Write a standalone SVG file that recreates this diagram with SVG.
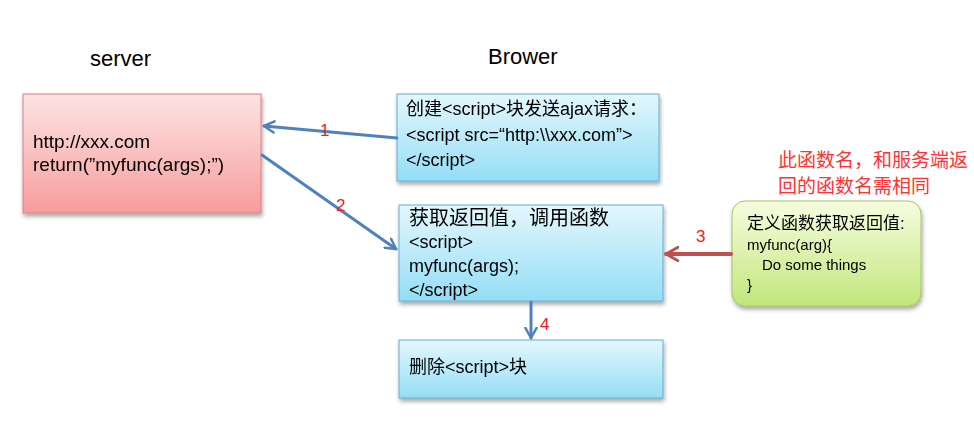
<svg xmlns="http://www.w3.org/2000/svg" width="974" height="430" viewBox="0 0 974 430">
<defs>
<linearGradient id="gPink" x1="0" y1="0" x2="0" y2="1"><stop offset="0" stop-color="#fde4e4"/><stop offset="1" stop-color="#f79c9c"/></linearGradient>
<linearGradient id="gBlue" x1="0" y1="0" x2="0" y2="1"><stop offset="0" stop-color="#e4f7fd"/><stop offset="1" stop-color="#94def5"/></linearGradient>
<linearGradient id="gGreen" x1="0" y1="0" x2="0" y2="1"><stop offset="0" stop-color="#f6fde0"/><stop offset="1" stop-color="#c2e67a"/></linearGradient>
<filter id="sh" x="-10%" y="-10%" width="130%" height="140%"><feGaussianBlur in="SourceAlpha" stdDeviation="2"/><feOffset dx="1" dy="3"/><feComponentTransfer><feFuncA type="linear" slope="0.35"/></feComponentTransfer><feMerge><feMergeNode/><feMergeNode in="SourceGraphic"/></feMerge></filter>
<marker id="aBlue" viewBox="0 0 12 12" refX="10" refY="6" markerWidth="4.5" markerHeight="4.5" markerUnits="strokeWidth" orient="auto"><path d="M1,1 L10,6 L1,11" fill="none" stroke="#4f81bd" stroke-width="2.2" stroke-linecap="round" stroke-linejoin="round"/></marker>
<marker id="aRed" viewBox="0 0 12 12" refX="10" refY="6" markerWidth="4" markerHeight="4" markerUnits="strokeWidth" orient="auto"><path d="M1,1 L10,6 L1,11" fill="none" stroke="#c0504d" stroke-width="2.2" stroke-linecap="round" stroke-linejoin="round"/></marker>
</defs>
<style>
text{font-family:"Liberation Sans","Noto Sans CJK SC",sans-serif;fill:#000}
.t{font-size:22px}
.b{font-size:18px}
.s{font-size:19px}
.g{font-size:15px}
.n{font-size:17px;fill:#f02020}
.r{font-size:19px;fill:#ff3333}
.blue{fill:url(#gBlue);stroke:#62aed3;stroke-width:1}
</style>
<rect width="974" height="430" fill="#fff"/>
<text class="t" x="90" y="66">server</text>
<text class="t" x="488" y="64">Brower</text>
<g id="server" filter="url(#sh)">
<rect x="23" y="94" width="238" height="119" fill="url(#gPink)" stroke="#d9807e"/>
<text class="s" x="33" y="148">http://xxx.com</text>
<text class="s" x="33" y="171">return(”myfunc(args);”)</text>
</g>
<g id="create" filter="url(#sh)">
<rect class="blue" x="397" y="94" width="262" height="87"/>
<text class="b" x="406" y="115">创建&lt;script&gt;块发送ajax请求：</text>
<text class="b" x="406" y="141">&lt;script src=“http:\\xxx.com”&gt;</text>
<text class="b" x="406" y="166">&lt;/script&gt;</text>
</g>
<g id="call" filter="url(#sh)">
<rect class="blue" x="399" y="205" width="264" height="96"/>
<text x="409" y="225" style="font-size:20px">获取返回值，调用函数</text>
<text class="b" x="409" y="248">&lt;script&gt;</text>
<text class="b" x="409" y="272">myfunc(args);</text>
<text class="b" x="409" y="296">&lt;/script&gt;</text>
</g>
<g id="delete" filter="url(#sh)">
<rect class="blue" x="399" y="340" width="264" height="58"/>
<text class="b" x="409" y="373">删除&lt;script&gt;块</text>
</g>
<g id="define" filter="url(#sh)">
<rect x="732" y="201" width="189" height="105" rx="13" fill="url(#gGreen)" stroke="#a6c463"/>
<text x="747" y="229" style="font-size:17px">定义函数获取返回值:</text>
<text class="g" x="747" y="250">myfunc(arg){</text>
<text class="g" x="762" y="270">Do some things</text>
<text class="g" x="747" y="290">}</text>
</g>
<g id="note">
<text class="r" x="778" y="167">此函数名，和服务端返</text>
<text class="r" x="778" y="193">回的函数名需相同</text>
</g>
<g id="connectors" fill="none" stroke-linecap="round">
<line x1="397" y1="138" x2="264" y2="126" stroke="#4f81bd" stroke-width="3" marker-end="url(#aBlue)"/>
<line x1="262" y1="155" x2="396" y2="249" stroke="#4f81bd" stroke-width="3" marker-end="url(#aBlue)"/>
<line x1="731" y1="254" x2="666" y2="254" stroke="#c0504d" stroke-width="4" marker-end="url(#aRed)"/>
<line x1="531" y1="302" x2="531" y2="338" stroke="#4f81bd" stroke-width="3" marker-end="url(#aBlue)"/>
<text class="n" x="320" y="136">1</text>
<text class="n" x="336" y="211">2</text>
<text class="n" x="696" y="242">3</text>
<text class="n" x="540" y="330">4</text>
</g>
</svg>
